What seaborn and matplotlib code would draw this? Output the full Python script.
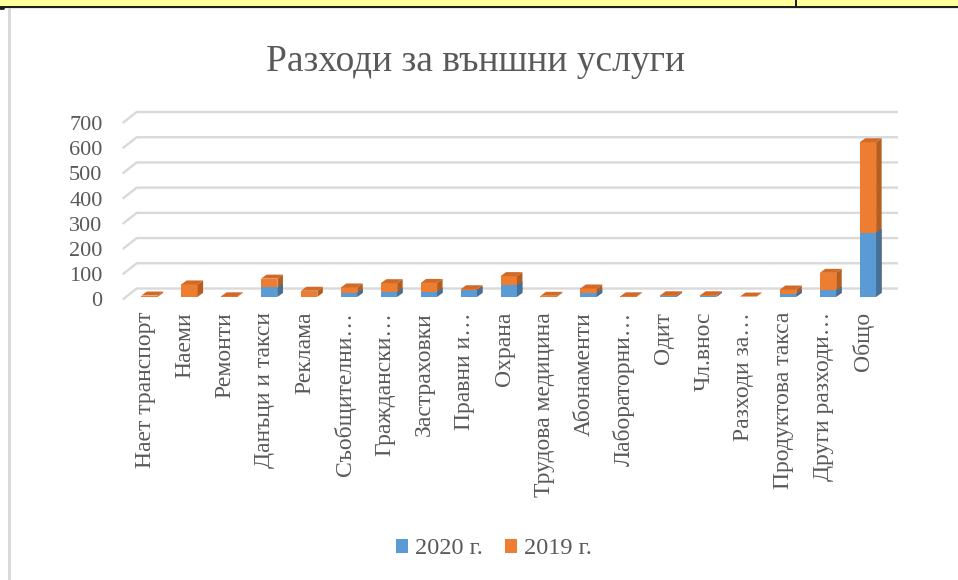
import numpy as np
import pandas as pd
import matplotlib
matplotlib.use("Agg")
import matplotlib.pyplot as plt
import matplotlib.transforms as mtransforms
from matplotlib.patches import Polygon, Rectangle
from matplotlib.lines import Line2D
import seaborn as sns

# ---------------- data ----------------
categories = ["Нает транспорт", "Наеми", "Ремонти", "Данъци и такси", "Реклама",
              "Съобщителни…", "Граждански…", "Застраховки", "Правни и…", "Охрана",
              "Трудова медицина", "Абонаменти", "Лабораторни…", "Одит", "Чл.внос",
              "Разходи за…", "Продуктова такса", "Други разходи…", "Общо"]
values_2020 = [0, 0, 0, 37, 0, 17, 20, 21, 26, 46, 1, 17, 0, 3, 3, 0, 13, 26, 254]
values_2019 = [5, 49, 2, 35, 24, 20, 34, 34, 4, 36, 3, 16, 2, 3, 3, 1, 16, 69, 359]
y_ticks = [0, 100, 200, 300, 400, 500, 600, 700]
series_names = ["2020 г.", "2019 г."]
title = "Разходи за външни услуги"

# ---------------- style ----------------
sns.set_theme(style="white")
plt.rcParams["font.family"] = ["Liberation Serif", "DejaVu Serif"]
TXT = "#595959"
BLUE, BLUE_SIDE = "#5B9BD5", "#41719C"
ORANGE, ORANGE_SIDE, ORANGE_TOP = "#ED7D31", "#B95D1E", "#D06A26"
GRID = "#D9D9D9"

W, H, DPI = 958, 580, 100
fig = plt.figure(figsize=(W / DPI, H / DPI), dpi=DPI)
fig.patch.set_facecolor("white")

# axes placed so that the "front" of the 3D floor matches the reference
ax_left_px, ax_right_px = 122.7, 884.0
ax_bottom_px, ax_top_px = 299.5, 123.0
ax = fig.add_axes([ax_left_px / W, 1 - ax_bottom_px / H,
                   (ax_right_px - ax_left_px) / W, (ax_bottom_px - ax_top_px) / H])
ax.set_facecolor("none")

df = pd.DataFrame({"cat": categories, "v2020": values_2020, "v2019": values_2019})
df["total"] = df["v2020"] + df["v2019"]

sns.barplot(data=df, x="cat", y="total", color=ORANGE, saturation=1, width=0.41,
            linewidth=0, ax=ax, zorder=3)
sns.barplot(data=df, x="cat", y="v2020", color=BLUE, saturation=1, width=0.41,
            linewidth=0, ax=ax, zorder=5)

xl, xr = -0.584, 18.49
ax.set_xlim(xl, xr)
ax.set_ylim(0, 700)
ax.set_yticks(y_ticks)
for s in ax.spines.values():
    s.set_visible(False)
ax.set_xlabel("")
ax.set_ylabel("")
ax.grid(False)

px_x = (ax_right_px - ax_left_px) / (xr - xl)
px_y = (ax_bottom_px - ax_top_px) / 700.0

# bars sit slightly behind the front edge of the floor
bar_off = mtransforms.offset_copy(ax.transData, fig=fig, x=3.5, y=2.7, units="dots")
n = len(categories)
orange_bars = ax.patches[:n]
blue_bars = ax.patches[n:2 * n]
ddx, ddy = 5.5 / px_x, 4.0 / px_y
for p in orange_bars + blue_bars:
    p.set_transform(bar_off)

for pb, pt in zip(blue_bars, orange_bars):
    x0, w, ht = pt.get_x(), pt.get_width(), pt.get_height()
    hb = pb.get_height()
    side_o = Polygon([(x0 + w, 0), (x0 + w + ddx, ddy), (x0 + w + ddx, ht + ddy), (x0 + w, ht)],
                     closed=True, facecolor=ORANGE_SIDE, edgecolor="none", transform=bar_off, zorder=4)
    top_o = Polygon([(x0, ht), (x0 + w, ht), (x0 + w + ddx, ht + ddy), (x0 + ddx, ht + ddy)],
                    closed=True, facecolor=ORANGE_TOP, edgecolor="none", transform=bar_off, zorder=4)
    ax.add_patch(side_o)
    ax.add_patch(top_o)
    if hb > 0:
        side_b = Polygon([(x0 + w, 0), (x0 + w + ddx, ddy), (x0 + w + ddx, hb + ddy), (x0 + w, hb)],
                         closed=True, facecolor=BLUE_SIDE, edgecolor="none", transform=bar_off, zorder=6)
        ax.add_patch(side_b)

# back-wall gridlines with the diagonal floor edge
gdx, gdy = 14.0 / px_x, 11.0 / px_y
for t in y_ticks:
    ax.plot([xl, xl + gdx, xr + gdx], [t, t + gdy, t + gdy], color=GRID, lw=1.7,
            clip_on=False, zorder=1, solid_capstyle="butt")

ax.tick_params(axis="both", length=0, colors=TXT)
ax.tick_params(axis="y", pad=14.5, labelsize=16)
ax.tick_params(axis="x", pad=9.0, labelsize=17)
ax.set_yticklabels([str(t) for t in y_ticks], color=TXT)
ax.set_xticks(range(n))
ax.set_xticklabels(categories, rotation=90, color=TXT, va="top", ha="center")
shift = mtransforms.ScaledTranslation(-1.0 / DPI, 0, fig.dpi_scale_trans)
for lab in ax.get_xticklabels():
    lab.set_transform(lab.get_transform() + shift)

# title
fig.text(476 / W, 1 - 71 / H, title, ha="center", va="baseline", fontsize=27, color=TXT)

# legend
handles = [Rectangle((0, 0), 1, 1, facecolor=BLUE, edgecolor="none"),
           Rectangle((0, 0), 1, 1, facecolor=ORANGE, edgecolor="none")]
fig.legend(handles, series_names, loc="center", bbox_to_anchor=(494 / W, 1 - 549 / H),
           ncol=2, frameon=False, fontsize=17.5, labelcolor=TXT, handlelength=0.5,
           handleheight=0.5, handletextpad=0.3, columnspacing=0.9)

# spreadsheet surroundings (yellow cell strip and chart frame)
fig.patches.append(Rectangle((0, 1 - 6 / H), 1, 6 / H, transform=fig.transFigure,
                             facecolor="#FFFF9C", edgecolor="none", zorder=0))
fig.patches.append(Rectangle((0, 1 - 9 / H), 1, 2.5 / H, transform=fig.transFigure,
                             facecolor="#E6E6E6", edgecolor="none", zorder=0))
fig.lines.append(Line2D([0, 1], [1 - 6.7 / H, 1 - 6.7 / H], transform=fig.transFigure,
                        color="#1A1A1A", lw=1.4))
fig.lines.append(Line2D([796 / W, 796 / W], [1, 1 - 7 / H], transform=fig.transFigure,
                        color="#1A1A1A", lw=1.4))
fig.patches.append(Rectangle((8 / W, 0), 3 / W, 1 - 7.5 / H, transform=fig.transFigure,
                             facecolor="#D9D9D9", edgecolor="none", zorder=0))
fig.lines.append(Line2D([0, 3 / W], [1 - 7.5 / H, 1 - 7.5 / H], transform=fig.transFigure,
                        color="#1A1A1A", lw=2))

fig.savefig("out.png", dpi=DPI, facecolor="white")
